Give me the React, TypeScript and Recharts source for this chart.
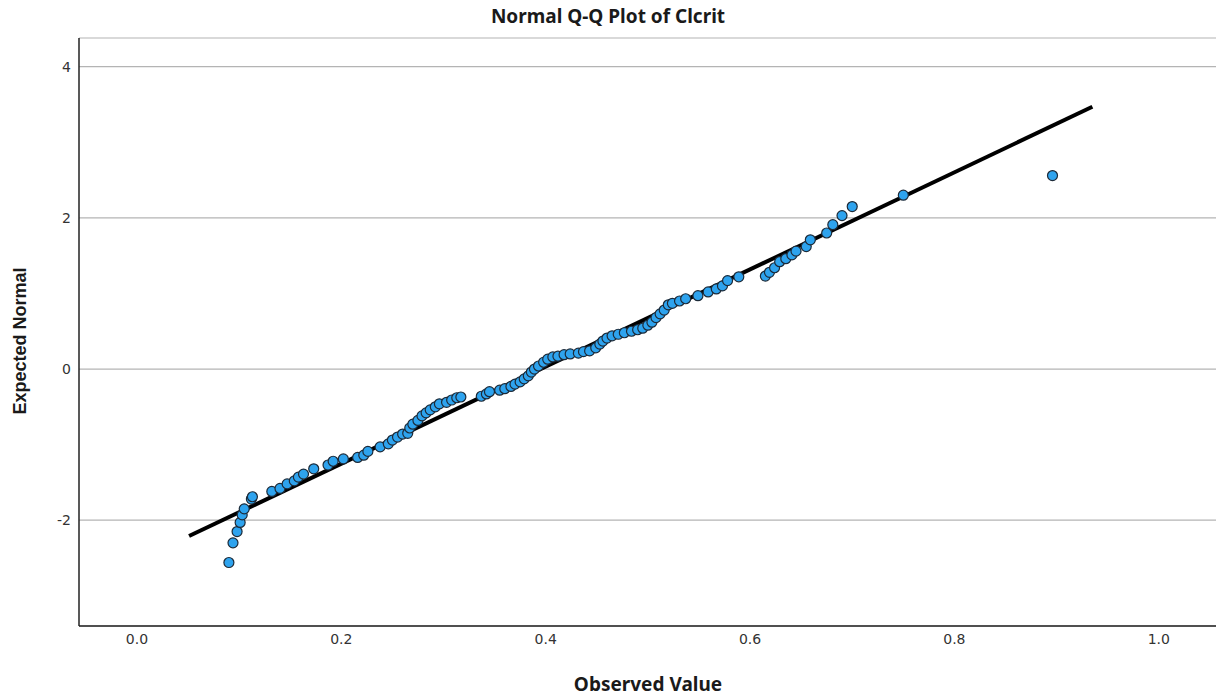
import React from "react";
import {
  ScatterChart,
  Scatter,
  XAxis,
  YAxis,
  CartesianGrid,
  ReferenceLine,
} from "recharts";

const observed = [
  0.09, 0.094, 0.098, 0.101, 0.103, 0.105, 0.112, 0.113, 0.132, 0.14, 0.147, 0.154,
  0.158, 0.163, 0.173, 0.187, 0.192, 0.202, 0.216, 0.222, 0.226, 0.238, 0.246, 0.25,
  0.255, 0.26, 0.265, 0.267, 0.27, 0.275, 0.279, 0.283, 0.287, 0.292, 0.296, 0.303,
  0.308, 0.313, 0.317, 0.337, 0.342, 0.345, 0.355, 0.36, 0.366, 0.37, 0.375, 0.379,
  0.383, 0.386, 0.389, 0.393, 0.398, 0.402, 0.407, 0.412, 0.418, 0.424, 0.432, 0.437,
  0.443, 0.449, 0.453, 0.456, 0.46, 0.465, 0.471, 0.477, 0.484, 0.49, 0.495, 0.5,
  0.504, 0.508, 0.512, 0.516, 0.52, 0.524, 0.531, 0.537, 0.549, 0.559, 0.567, 0.573,
  0.578, 0.589, 0.615, 0.619, 0.624, 0.629, 0.635, 0.641, 0.645, 0.655, 0.659, 0.675,
  0.681, 0.69, 0.7, 0.75, 0.896,
];
const expected = [
  -2.56, -2.3, -2.15, -2.03, -1.93, -1.85, -1.72, -1.69, -1.62, -1.58, -1.52, -1.48,
  -1.43, -1.39, -1.32, -1.27, -1.22, -1.19, -1.17, -1.14, -1.09, -1.03, -0.99, -0.94,
  -0.9, -0.86, -0.85, -0.78, -0.73, -0.68, -0.62, -0.58, -0.54, -0.5, -0.46, -0.44,
  -0.41, -0.38, -0.37, -0.36, -0.33, -0.3, -0.28, -0.26, -0.23, -0.2, -0.17, -0.13,
  -0.09, -0.04, 0.0, 0.04, 0.09, 0.13, 0.16, 0.17, 0.19, 0.2, 0.21, 0.23,
  0.24, 0.28, 0.33, 0.37, 0.41, 0.44, 0.46, 0.48, 0.5, 0.52, 0.54, 0.58,
  0.62, 0.68, 0.73, 0.78, 0.85, 0.87, 0.9, 0.93, 0.97, 1.02, 1.06, 1.1,
  1.17, 1.22, 1.23, 1.28, 1.34, 1.42, 1.46, 1.51, 1.56, 1.62, 1.71, 1.8,
  1.91, 2.03, 2.15, 2.3, 2.56,
];
const xTicks = [0, 0.2, 0.4, 0.6, 0.8, 1.0];
const yTicks = [-2, 0, 2, 4];
const fitLine = [
  { x: 0.051, y: -2.21 },
  { x: 0.935, y: 3.47 },
];

const points = observed.map((x, i) => ({ x, y: expected[i] }));

const TITLE_FONT = "'Noto Sans', 'Open Sans', sans-serif";
const TICK_FONT = "'DejaVu Sans', sans-serif";

function Dot(props: any) {
  const { cx, cy } = props;
  return <circle cx={cx} cy={cy} r={5} fill="#2ea3ee" stroke="#1c2a38" strokeWidth={1.2} />;
}

export default function App() {
  return (
    <div style={{ position: "absolute", left: 0, top: 0, width: 1221, height: 696, background: "#fff" }}>
      <ScatterChart width={1221} height={696} margin={{ top: 38, right: 5, left: 0, bottom: 0 }}>
        <CartesianGrid vertical={false} stroke="#b4b4b4" strokeWidth={1.2} />
        <XAxis
          type="number"
          dataKey="x"
          domain={[-0.0567, 1.056]}
          ticks={xTicks}
          tickFormatter={(v: number) => v.toFixed(1)}
          tick={{ fontSize: 14, fill: "#333", fontFamily: TICK_FONT }}
          tickLine={false}
          axisLine={{ stroke: "#222", strokeWidth: 1.5 }}
          height={70}
          allowDataOverflow
        />
        <YAxis
          type="number"
          dataKey="y"
          domain={[-3.4, 4.38]}
          ticks={yTicks}
          tick={{ fontSize: 14, fill: "#333", fontFamily: TICK_FONT }}
          tickLine={false}
          axisLine={{ stroke: "#222", strokeWidth: 1.5 }}
          width={79}
          allowDataOverflow
        />
        <Scatter data={points} shape={<Dot />} isAnimationActive={false} />
        <ReferenceLine segment={fitLine} stroke="#000" strokeWidth={4} />
        <text x={608} y={23} textAnchor="middle" fontSize={19} fontWeight="bold" fill="#1a1a1a" fontFamily={TITLE_FONT}>
          Normal Q-Q Plot of Clcrit
        </text>
        <text x={648} y={691} textAnchor="middle" fontSize={19} fontWeight="bold" fill="#1a1a1a" fontFamily={TITLE_FONT}>
          Observed Value
        </text>
        <text
          x={26}
          y={341}
          textAnchor="middle"
          fontSize={18}
          fontWeight="bold"
          fill="#1a1a1a"
          fontFamily="'Liberation Sans', Arial, sans-serif"
          transform="rotate(-90 26 341)"
        >
          Expected Normal
        </text>
      </ScatterChart>
    </div>
  );
}
